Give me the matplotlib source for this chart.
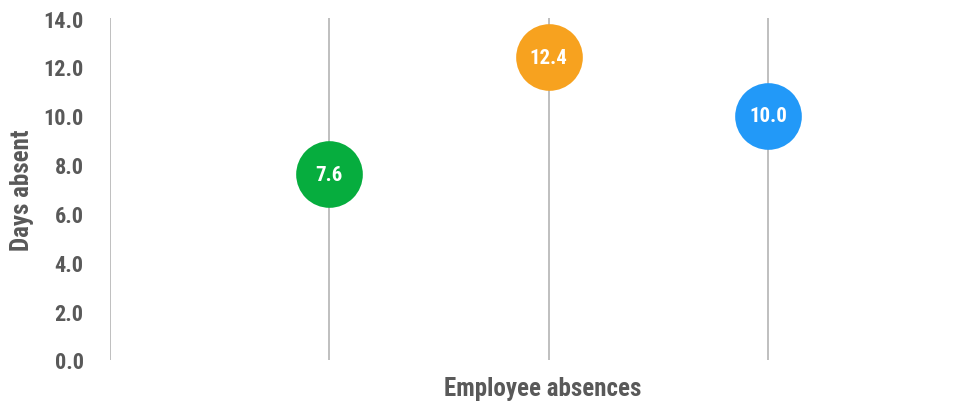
import matplotlib
matplotlib.use("Agg")
import matplotlib.pyplot as plt
from matplotlib import font_manager

names = {f.name for f in font_manager.fontManager.ttflist}
preferred = ["Roboto Condensed", "Open Sans Condensed", "Liberation Sans Narrow", "Roboto"]
main_font = next((n for n in preferred if n in names), "DejaVu Sans")
plt.rcParams["font.family"] = [main_font, "DejaVu Sans"]

# Data
groups = ["Group A", "Group B", "Group C"]
days_absent = [7.6, 12.4, 10.0]
colors = ["#06AD3E", "#F7A21F", "#2299F8"]
y_ticks = [0, 2, 4, 6, 8, 10, 12, 14]

text_color = "#595959"

W, H = 977, 406
fig = plt.figure(figsize=(W / 100, H / 100), dpi=100)
ax_top, ax_bottom = 19, 361
ax = fig.add_axes([110 / W, 1 - ax_bottom / H, 867 / W, (ax_bottom - ax_top) / H])

positions = list(range(1, len(groups) + 1))
ax.set_xlim(0, 867 / 219.3)
ax.set_ylim(0, 14)

# vertical gridlines at category boundaries
for x in range(0, len(groups) + 1):
    ax.axvline(x, color="#BFBFBF", lw=1.4, zorder=1)

for x, v, c in zip(positions, days_absent, colors):
    ax.plot([x], [v], marker="o", markersize=48, color=c, markeredgewidth=0, zorder=3)
    ax.text(x, v, f"{v:.1f}", ha="center", va="center", color="white",
            fontsize=15, fontweight="bold", zorder=4)

ax.set_yticks(y_ticks)
ax.set_yticklabels([f"{t:.1f}" for t in y_ticks], fontsize=16, fontweight="bold", color=text_color)
ax.set_xticks([])
ax.tick_params(axis="y", length=0, pad=19)
for s in ax.spines.values():
    s.set_visible(False)

fig.text(22 / W, 1 - 190 / H, "Days absent", rotation=90, ha="center", va="center",
         fontsize=18, fontweight="bold", color=text_color)
fig.text(543 / W, 1 - 389 / H, "Employee absences", ha="center", va="center",
         fontsize=18, fontweight="bold", color=text_color)

fig.savefig("out.png", dpi=100)
